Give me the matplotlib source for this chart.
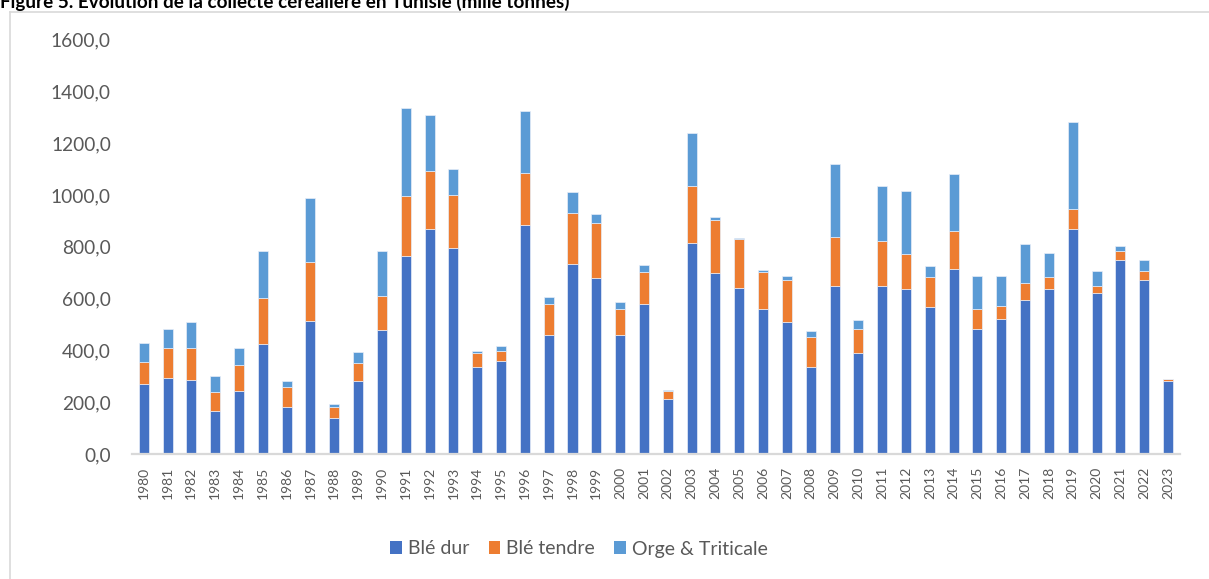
import matplotlib
matplotlib.use("Agg")
import matplotlib.pyplot as plt
from matplotlib.lines import Line2D
from matplotlib.patches import Patch
import numpy as np

plt.rcParams['font.family'] = ['Lato', 'DejaVu Sans']

years = list(range(1980, 2024))
ble_dur = [270, 295, 287, 166, 245, 423, 181, 515, 140, 283,
           480, 766, 869, 794, 337, 359, 883, 458, 735, 678,
           458, 580, 214, 815, 700, 640, 560, 511, 337, 650,
           391, 650, 636, 569, 716, 483, 523, 595, 636, 870,
           623, 750, 671, 283]
ble_tendre = [84, 113, 121, 72, 97, 178, 76, 228, 40, 70,
              131, 228, 225, 206, 54, 40, 203, 122, 195, 215,
              101, 124, 31, 220, 205, 189, 144, 160, 113, 187,
              92, 171, 137, 114, 145, 77, 50, 65, 49, 77,
              26, 32, 36, 5]
orge_triticale = [73, 73, 102, 62, 66, 184, 24, 244, 13, 41,
                  172, 342, 215, 99, 8, 18, 238, 25, 82, 34,
                  28, 24, 3, 204, 9, 4, 6, 15, 26, 281,
                  34, 214, 241, 43, 220, 126, 113, 152, 90, 335,
                  58, 22, 41, 3]

series = [("Blé dur", ble_dur, "#4472C4"),
          ("Blé tendre", ble_tendre, "#ED7D31"),
          ("Orge & Triticale", orge_triticale, "#5B9BD5")]

fig = plt.figure(figsize=(12.09, 5.79), dpi=100)
ax = fig.add_axes([0.109, 0.2159, 0.867, 0.7159])

x = np.arange(len(years))
bottom = np.zeros(len(years))
for name, vals, col in series:
    vals = np.array(vals, dtype=float)
    ax.bar(x, vals, 0.42, bottom=bottom, color=col, edgecolor="#e8eef8", linewidth=0.5, label=name)
    bottom += vals

ax.set_xlim(-0.5, len(years) - 0.5)
ax.set_ylim(0, 1600)
ax.set_yticks(np.arange(0, 1601, 200))
ax.set_yticklabels([f"{v},0" for v in range(0, 1601, 200)], fontsize=13.8, color="#595959")
ax.set_xticks(x)
ax.set_xticklabels([str(y) for y in years], rotation=90, fontsize=10, color="#595959")
ax.tick_params(axis="y", length=0, pad=15)
ax.tick_params(axis="x", length=0, pad=9)
for s in ["top", "right", "left"]:
    ax.spines[s].set_visible(False)
ax.spines["bottom"].set_color("#D9D9D9")
ax.spines["bottom"].set_linewidth(1.6)

handles = [Patch(facecolor=c, edgecolor="none") for _, _, c in series]
fig.legend(handles, [n for n, _, _ in series], loc="center", bbox_to_anchor=(0.479, 1 - 549 / 579),
           ncol=3, frameon=False, fontsize=14, labelcolor="#595959",
           handlelength=0.6, handleheight=0.6, handletextpad=0.3, columnspacing=1.0)

# chart frame (top and left edges visible)
fig.add_artist(Line2D([9.5 / 1209, 1.0], [1 - 12 / 579, 1 - 12 / 579], transform=fig.transFigure,
                      color="#D9D9D9", linewidth=1.2))
fig.add_artist(Line2D([9.5 / 1209, 9.5 / 1209], [0, 1 - 12 / 579], transform=fig.transFigure,
                      color="#D9D9D9", linewidth=1.2))

fig.text(0.0, 1 - 7.5 / 579, "Figure 5. Evolution de la collecte céréalière en Tunisie (mille tonnes)",
         fontsize=13.6, fontweight="bold", color="black", va="baseline", ha="left")

fig.savefig("out.png", dpi=100)
